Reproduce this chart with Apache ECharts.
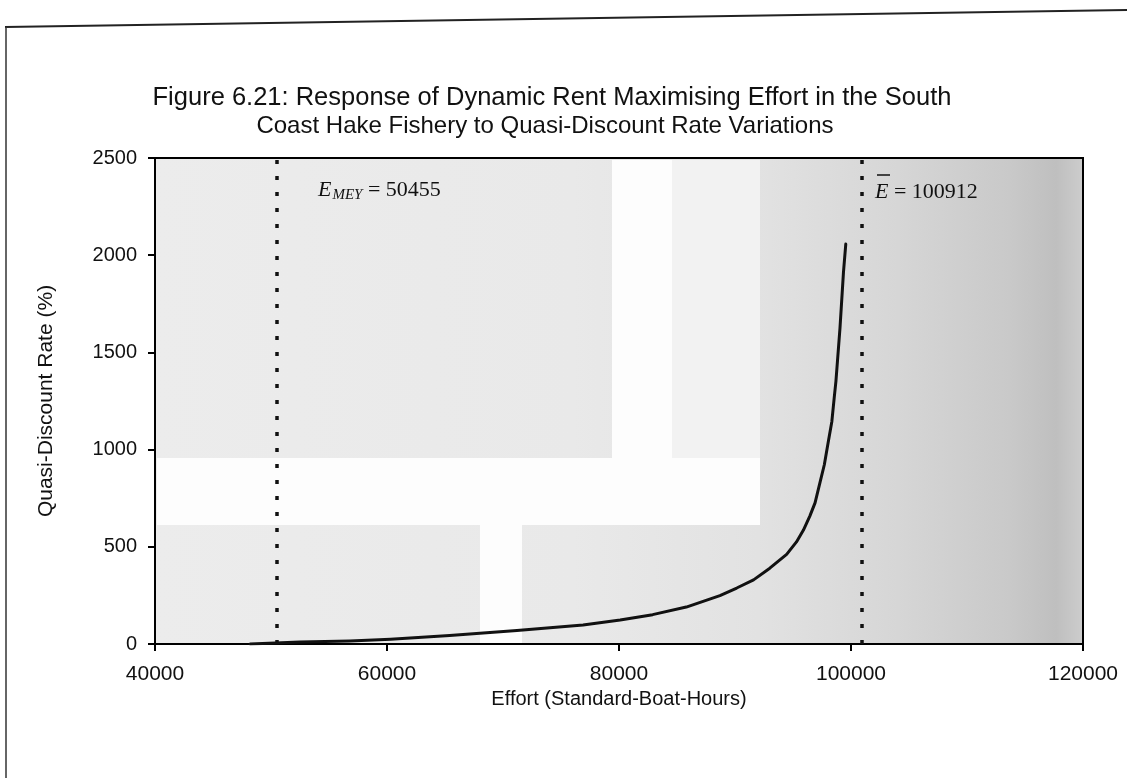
<!DOCTYPE html>
<html>
<head>
<meta charset="utf-8">
<script src="https://cdn.jsdelivr.net/npm/echarts@6/dist/echarts.min.js"></script>
<style>
  html, body { margin: 0; padding: 0; background: #fff; }
  #chart { width: 1127px; height: 778px; }
</style>
</head>
<body>
<div id="chart"></div>
<script>
// Effort (standard-boat-hours) against the quasi-discount rate (%) that makes it rent-maximising
const effort = [48200, 52500, 56800, 60300, 65400, 71200, 76900, 80100, 82900, 85800,
                88700, 90150, 91600, 93000, 94450, 95300, 95900, 96450, 96900, 97350,
                97700, 98050, 98350, 98550, 98700, 99050, 99350, 99550];
const rate   = [0, 10, 16, 25, 44, 70, 98, 123, 151, 190,
                249, 288, 330, 390, 461, 525, 586, 658, 726, 837,
                922, 1043, 1145, 1265, 1351, 1625, 1912, 2057];

// Reference efforts marked with dotted verticals
const eMEY = 50455;
const eBar = 100912;

// Axis ranges / tick spacing
const xTicks = { min: 40000, max: 120000, interval: 20000 };
const yTicks = { min: 0, max: 2500, interval: 500 };

const titleLines = [
  'Figure 6.21: Response of Dynamic Rent Maximising Effort in the South',
  'Coast Hake Fishery to Quasi-Discount Rate Variations'
];
const xName = 'Effort (Standard-Boat-Hours)';
const yName = 'Quasi-Discount Rate (%)';

const chart = echarts.init(document.getElementById('chart'), null, { renderer: 'canvas' });

const sans = "'Liberation Sans', Arial, sans-serif";
const serif = "'Liberation Serif', 'Times New Roman', serif";

// Scanned-paper shading of the plot area: darker towards the right edge
const plotShade = new echarts.graphic.LinearGradient(0, 0, 1, 0, [
  { offset: 0.00, color: '#ececec' },
  { offset: 0.45, color: '#e9e9e9' },
  { offset: 0.65, color: '#e2e2e2' },
  { offset: 0.80, color: '#d6d6d6' },
  { offset: 0.92, color: '#c9c9c9' },
  { offset: 0.97, color: '#bfbfbf' },
  { offset: 1.00, color: '#cdcdcd' }
]);

const option = {
  animation: false,
  backgroundColor: '#ffffff',
  grid: {
    left: 155, right: 44, top: 158, bottom: 134,
    show: true,
    backgroundColor: plotShade,
    borderColor: '#000', borderWidth: 2
  },
  xAxis: {
    type: 'value',
    min: xTicks.min, max: xTicks.max, interval: xTicks.interval,
    name: xName, nameLocation: 'middle', nameGap: 37,
    nameTextStyle: { fontFamily: sans, fontSize: 20, color: '#111' },
    axisLine: { lineStyle: { color: '#000', width: 2 } },
    axisTick: { show: true, length: 7, lineStyle: { color: '#000', width: 2 } },
    axisLabel: { fontFamily: sans, fontSize: 21, color: '#111', margin: 20,
                 formatter: v => String(v) },
    splitLine: { show: false }
  },
  yAxis: {
    type: 'value',
    min: yTicks.min, max: yTicks.max, interval: yTicks.interval,
    name: yName, nameLocation: 'middle', nameGap: 98, nameRotate: 90,
    nameTextStyle: { fontFamily: sans, fontSize: 21, color: '#111' },
    axisLine: { show: true, lineStyle: { color: '#000', width: 2 } },
    axisTick: { show: true, length: 7, lineStyle: { color: '#000', width: 2 } },
    axisLabel: { fontFamily: sans, fontSize: 20, color: '#111', margin: 18,
                 formatter: v => String(v) },
    splitLine: { show: false }
  },
  series: [
    {
      type: 'line',
      name: 'rate',
      data: effort.map((e, i) => [e, rate[i]]),
      smooth: false,
      showSymbol: false,
      lineStyle: { color: '#111', width: 3, join: 'round', cap: 'round' },
      z: 5,
      markLine: {
        silent: true,
        symbol: ['none', 'none'],
        label: { show: false },
        lineStyle: { color: '#111', width: 3.5, type: [4, 12] },
        data: [{ xAxis: eMEY }, { xAxis: eBar }]
      }
    }
  ],
  graphic: [
    // page frame
    { type: 'line', shape: { x1: 5, y1: 27, x2: 1127, y2: 10 }, style: { stroke: '#222', lineWidth: 2 }, z: 10 },
    { type: 'line', shape: { x1: 6, y1: 27, x2: 6, y2: 778 }, style: { stroke: '#333', lineWidth: 1.5 }, z: 10 },
    // title
    { type: 'text', x: 552, y: 98, style: { text: titleLines[0], font: '25.5px ' + sans, fill: '#111', textAlign: 'center', textVerticalAlign: 'middle' }, z: 10 },
    { type: 'text', x: 545, y: 126, style: { text: titleLines[1], font: '24px ' + sans, fill: '#111', textAlign: 'center', textVerticalAlign: 'middle' }, z: 10 },
    // lighter scan patches inside the plot
    { type: 'rect', shape: { x: 612, y: 160, width: 60, height: 298 }, style: { fill: '#fdfdfd' }, z: 1, silent: true },
    { type: 'rect', shape: { x: 672, y: 160, width: 88, height: 298 }, style: { fill: '#f2f2f2' }, z: 1, silent: true },
    { type: 'rect', shape: { x: 157, y: 458, width: 603, height: 67 }, style: { fill: '#fdfdfd' }, z: 1, silent: true },
    { type: 'rect', shape: { x: 480, y: 525, width: 42, height: 118 }, style: { fill: '#fdfdfd' }, z: 1, silent: true },
    // annotations
    {
      type: 'text', x: 318, y: 190, z: 10,
      style: {
        text: '{e|E}{s|MEY}{v| = 50455}',
        textVerticalAlign: 'middle',
        rich: {
          e: { font: 'italic 22px ' + serif, fill: '#111' },
          s: { font: 'italic 15px ' + serif, fill: '#111', padding: [10, 0, 0, 1] },
          v: { font: '22px ' + serif, fill: '#111' }
        }
      }
    },
    {
      type: 'text', x: 875, y: 192, z: 10,
      style: {
        text: '{e|E}{v| = 100912}',
        textVerticalAlign: 'middle',
        rich: {
          e: { font: 'italic 22px ' + serif, fill: '#111' },
          v: { font: '22px ' + serif, fill: '#111' }
        }
      }
    },
    { type: 'line', shape: { x1: 877, y1: 175, x2: 890, y2: 175 }, style: { stroke: '#111', lineWidth: 1.5 }, z: 10 }
  ]
};

chart.setOption(option);
</script>
</body>
</html>
